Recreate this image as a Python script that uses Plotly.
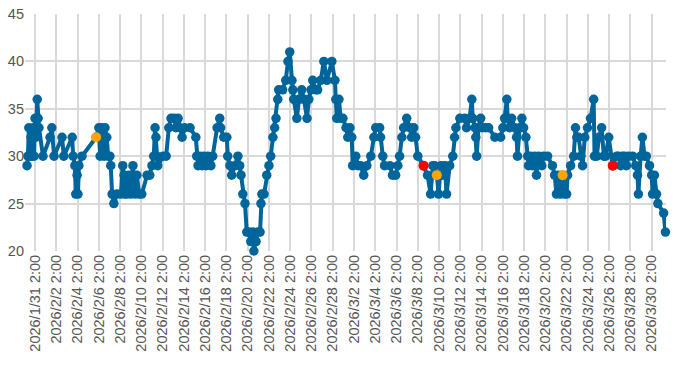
import plotly.graph_objects as go
import pandas as pd

times = [
    "2026-01-30 08:00", "2026-01-30 10:00", "2026-01-30 12:00", "2026-01-30 15:00", "2026-01-30 17:00",
    "2026-01-30 19:00", "2026-01-30 22:00", "2026-01-31 00:00", "2026-01-31 02:00", "2026-01-31 04:00",
    "2026-01-31 07:00", "2026-01-31 09:00", "2026-01-31 11:00", "2026-01-31 20:00", "2026-02-01 12:00",
    "2026-02-01 16:00", "2026-02-01 21:00", "2026-02-02 15:00", "2026-02-02 19:00", "2026-02-03 14:00",
    "2026-02-03 16:00", "2026-02-03 20:00", "2026-02-03 22:00", "2026-02-04 01:00", "2026-02-04 03:00",
    "2026-02-04 05:00", "2026-02-04 12:00", "2026-02-05 20:00", "2026-02-06 02:00", "2026-02-06 05:00",
    "2026-02-06 09:00", "2026-02-06 14:00", "2026-02-06 16:00", "2026-02-06 20:00", "2026-02-06 23:00",
    "2026-02-07 03:00", "2026-02-07 05:00", "2026-02-07 08:00", "2026-02-07 12:00", "2026-02-07 19:00",
    "2026-02-08 04:00", "2026-02-08 08:00", "2026-02-08 11:00", "2026-02-08 13:00", "2026-02-08 17:00",
    "2026-02-08 22:00", "2026-02-09 02:00", "2026-02-09 07:00", "2026-02-09 12:00", "2026-02-09 16:00",
    "2026-02-09 21:00", "2026-02-10 03:00", "2026-02-10 15:00", "2026-02-10 21:00", "2026-02-11 02:00",
    "2026-02-11 06:00", "2026-02-11 09:00", "2026-02-11 11:00", "2026-02-11 13:00", "2026-02-11 15:00",
    "2026-02-12 03:00", "2026-02-12 10:00", "2026-02-12 16:00", "2026-02-12 21:00", "2026-02-13 04:00",
    "2026-02-13 08:00", "2026-02-13 13:00", "2026-02-13 17:00", "2026-02-13 22:00", "2026-02-14 04:00",
    "2026-02-14 16:00", "2026-02-15 05:00", "2026-02-15 07:00", "2026-02-15 10:00", "2026-02-15 14:00",
    "2026-02-15 19:00", "2026-02-15 23:00", "2026-02-16 04:00", "2026-02-16 08:00", "2026-02-16 15:00",
    "2026-02-16 19:00", "2026-02-17 05:00", "2026-02-17 11:00", "2026-02-17 13:00", "2026-02-17 20:00",
    "2026-02-18 03:00", "2026-02-18 05:00", "2026-02-18 10:00", "2026-02-18 14:00", "2026-02-18 21:00",
    "2026-02-19 04:00", "2026-02-19 08:00", "2026-02-19 11:00", "2026-02-19 15:00", "2026-02-19 20:00",
    "2026-02-20 00:00", "2026-02-20 05:00", "2026-02-20 09:00", "2026-02-20 14:00", "2026-02-20 16:00",
    "2026-02-20 21:00", "2026-02-21 01:00", "2026-02-21 06:00", "2026-02-21 08:00", "2026-02-21 10:00",
    "2026-02-21 15:00", "2026-02-21 21:00", "2026-02-22 02:00", "2026-02-22 06:00", "2026-02-22 11:00",
    "2026-02-22 15:00", "2026-02-22 18:00", "2026-02-22 22:00", "2026-02-23 00:00", "2026-02-23 09:00",
    "2026-02-23 16:00", "2026-02-23 21:00", "2026-02-24 01:00", "2026-02-24 06:00", "2026-02-24 08:00",
    "2026-02-24 10:00", "2026-02-24 17:00", "2026-02-24 22:00", "2026-02-25 04:00", "2026-02-25 09:00",
    "2026-02-25 16:00", "2026-02-25 20:00", "2026-02-26 01:00", "2026-02-26 05:00", "2026-02-26 12:00",
    "2026-02-26 16:00", "2026-02-26 23:00", "2026-02-27 06:00", "2026-02-27 13:00", "2026-02-28 00:00",
    "2026-02-28 07:00", "2026-02-28 09:00", "2026-02-28 11:00", "2026-02-28 16:00", "2026-02-28 20:00",
    "2026-03-01 01:00", "2026-03-01 08:00", "2026-03-01 12:00", "2026-03-01 17:00", "2026-03-01 21:00",
    "2026-03-01 23:00", "2026-03-02 06:00", "2026-03-02 11:00", "2026-03-02 17:00", "2026-03-03 00:00",
    "2026-03-03 07:00", "2026-03-03 16:00", "2026-03-03 23:00", "2026-03-04 03:00", "2026-03-04 12:00",
    "2026-03-04 14:00", "2026-03-04 19:00", "2026-03-04 23:00", "2026-03-05 11:00", "2026-03-05 17:00",
    "2026-03-06 00:00", "2026-03-06 05:00", "2026-03-06 09:00", "2026-03-06 14:00", "2026-03-06 18:00",
    "2026-03-07 01:00", "2026-03-07 08:00", "2026-03-07 12:00", "2026-03-07 17:00", "2026-03-07 21:00",
    "2026-03-08 02:00", "2026-03-08 15:00", "2026-03-09 00:00", "2026-03-09 07:00", "2026-03-09 12:00",
    "2026-03-09 16:00", "2026-03-09 21:00", "2026-03-10 01:00", "2026-03-10 06:00", "2026-03-10 10:00",
    "2026-03-10 15:00", "2026-03-10 19:00", "2026-03-11 02:00", "2026-03-11 09:00", "2026-03-11 13:00",
    "2026-03-11 16:00", "2026-03-12 01:00", "2026-03-12 12:00", "2026-03-12 16:00", "2026-03-12 23:00",
    "2026-03-13 04:00", "2026-03-13 06:00", "2026-03-13 11:00", "2026-03-13 13:00", "2026-03-13 15:00",
    "2026-03-13 19:00", "2026-03-14 00:00", "2026-03-14 04:00", "2026-03-14 11:00", "2026-03-14 18:00",
    "2026-03-15 08:00", "2026-03-15 21:00", "2026-03-16 02:00", "2026-03-16 06:00", "2026-03-16 11:00",
    "2026-03-16 13:00", "2026-03-16 17:00", "2026-03-16 22:00", "2026-03-17 05:00", "2026-03-17 09:00",
    "2026-03-17 11:00", "2026-03-17 16:00", "2026-03-17 21:00", "2026-03-18 01:00", "2026-03-18 06:00",
    "2026-03-18 10:00", "2026-03-18 12:00", "2026-03-18 17:00", "2026-03-18 21:00", "2026-03-19 02:00",
    "2026-03-19 06:00", "2026-03-19 11:00", "2026-03-19 18:00", "2026-03-19 22:00", "2026-03-20 07:00",
    "2026-03-20 18:00", "2026-03-20 23:00", "2026-03-21 03:00", "2026-03-21 08:00", "2026-03-21 12:00",
    "2026-03-21 17:00", "2026-03-21 21:00", "2026-03-22 02:00", "2026-03-22 04:00", "2026-03-22 11:00",
    "2026-03-22 18:00", "2026-03-22 22:00", "2026-03-23 01:00", "2026-03-23 05:00", "2026-03-23 10:00",
    "2026-03-23 14:00", "2026-03-23 19:00", "2026-03-24 01:00", "2026-03-24 08:00", "2026-03-24 15:00",
    "2026-03-24 17:00", "2026-03-24 22:00", "2026-03-25 03:00", "2026-03-25 09:00", "2026-03-25 14:00",
    "2026-03-25 18:00", "2026-03-26 01:00", "2026-03-26 10:00", "2026-03-26 19:00", "2026-03-26 23:00",
    "2026-03-27 04:00", "2026-03-27 08:00", "2026-03-27 13:00", "2026-03-27 17:00", "2026-03-27 22:00",
    "2026-03-28 07:00", "2026-03-28 14:00", "2026-03-28 18:00", "2026-03-28 20:00", "2026-03-29 01:00",
    "2026-03-29 05:00", "2026-03-29 10:00", "2026-03-29 14:00", "2026-03-29 21:00", "2026-03-30 02:00",
    "2026-03-30 04:00", "2026-03-30 08:00", "2026-03-30 13:00", "2026-03-30 16:00", "2026-03-31 05:00",
    "2026-03-31 09:00",
]

values = [
    29, 30, 33, 30, 32,
    30, 33, 30, 34, 32,
    36, 34, 33, 30, 32,
    33, 30, 32, 30, 32,
    30, 29, 26, 28, 26,
    29, 30, 32, 33, 30,
    33, 30, 33, 32, 30,
    30, 29, 26, 25, 26,
    26, 29, 28, 26, 26,
    28, 26, 29, 26, 28,
    26, 26, 28, 28, 29,
    30, 33, 32, 30, 29,
    30, 30, 33, 34, 34,
    33, 34, 33, 32, 33,
    33, 32, 30, 29, 30,
    29, 30, 29, 30, 29,
    30, 33, 34, 33, 32,
    32, 30, 29, 28, 29,
    30, 29, 28, 26, 25,
    22, 22, 21, 22, 20,
    21, 22, 22, 25, 26,
    26, 28, 29, 30, 32,
    33, 34, 36, 37, 37,
    38, 40, 41, 38, 37,
    36, 34, 36, 37, 36,
    34, 36, 37, 38, 37,
    37, 38, 40, 38, 40,
    38, 36, 34, 36, 34,
    34, 33, 32, 33, 32,
    29, 30, 29, 29, 28,
    29, 30, 32, 33, 33,
    32, 30, 29, 29, 28,
    28, 29, 30, 32, 33,
    34, 33, 32, 33, 32,
    30, 29, 28, 26, 29,
    29, 28, 26, 29, 28,
    29, 26, 29, 30, 32,
    33, 34, 34, 33, 34,
    36, 34, 33, 32, 30,
    33, 34, 33, 33, 33,
    32, 32, 33, 34, 36,
    34, 33, 34, 33, 32,
    30, 33, 34, 33, 32,
    30, 29, 30, 29, 30,
    28, 30, 29, 30, 30,
    29, 28, 26, 28, 26,
    28, 26, 26, 28, 29,
    30, 33, 32, 32, 30,
    29, 32, 33, 34, 36,
    30, 30, 32, 33, 30,
    30, 32, 29, 30, 30,
    29, 30, 30, 29, 30,
    30, 29, 28, 26, 30,
    32, 30, 30, 29, 28,
    26, 28, 26, 25, 24,
    22,
]

orange_times = ["2026-02-05 20:00", "2026-03-09 21:00", "2026-03-21 17:00"]
red_times = ["2026-03-08 15:00", "2026-03-26 10:00"]

LINE = "#00659a"
ORANGE = "#ffa500"
RED = "#ff0000"

value_at = dict(zip(times, values))

tick_dates = pd.date_range("2026-01-31 02:00", "2026-03-30 02:00", freq="2D")
tick_labels = [f"{d.year}/{d.month}/{d.day} {d.hour}:{d.minute:02d}" for d in tick_dates]

fig = go.Figure()
fig.add_trace(go.Scatter(
    x=pd.to_datetime(times), y=values, mode="lines+markers",
    line=dict(color=LINE, width=4),
    marker=dict(color=LINE, size=9.5, line=dict(width=0)),
    cliponaxis=False, showlegend=False,
))
for pts, col in ((orange_times, ORANGE), (red_times, RED)):
    fig.add_trace(go.Scatter(
        x=pd.to_datetime(pts), y=[value_at[t] for t in pts], mode="markers",
        marker=dict(color=col, size=10, line=dict(width=0)),
        cliponaxis=False, showlegend=False,
    ))

fig.update_layout(
    width=700, height=368,
    margin=dict(l=25, r=34, t=14, b=117),
    paper_bgcolor="white", plot_bgcolor="white",
    font=dict(family="Liberation Sans, Arial, sans-serif", size=14.5, color="#555555"),
    xaxis=dict(
        type="date", automargin=False,
        range=["2026-01-30 03:24", "2026-03-31 10:18"],
        tickvals=list(tick_dates), ticktext=tick_labels,
        tickangle=-90, showgrid=True, gridcolor="#d9d9d9", gridwidth=1.5,
        zeroline=False, showline=False, ticks="",
    ),
    yaxis=dict(
        automargin=False,
        range=[20, 45], dtick=5, tick0=20,
        showgrid=True, gridcolor="#d9d9d9", gridwidth=1.5,
        zeroline=False, showline=False, ticks="",
    ),
)

fig.write_html(
    "out.html",
    config={"displayModeBar": False},
    post_script="document.body.style.margin='0';document.body.style.overflow='hidden';",
)
